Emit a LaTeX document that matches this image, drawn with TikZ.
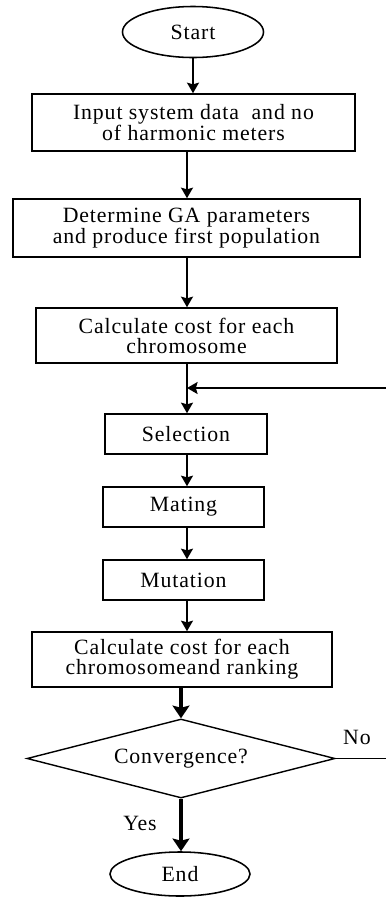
\documentclass[tikz,border=0pt]{standalone}
\usepackage{fontspec}
\setmainfont{Liberation Serif}[LetterSpace=4]
\usetikzlibrary{%
  arrows.meta,%
  shapes,%
  positioning%
}

\begin{document}
\begin{tikzpicture}
  [
  x=0.025cm, y=-0.025cm,
  line width=1.4pt,
  draw=black, >={Stealth[length=7.5pt,width=8.5pt,inset=1.2pt]},
  font=\fontsize{15.5}{14.2}\selectfont,
  stepbox/.style={rectangle, inner sep = 0pt, align=center, line width=1.1pt, draw=black},
  termnode/.style={ellipse, inner sep = 0pt, line width=1.1pt, draw=black},
  testnode/.style={diamond, aspect=3.9, inner sep = 0pt, line width=1pt, draw=black},
  bigarrow/.style={line width=2.8pt, -{Stealth[length=9pt,width=12pt,inset=1.5pt]}},
  ]
  \clip (0,0) rectangle (386,897);

  \node[termnode, minimum width=3.525cm, minimum height=1.275cm] (start) at (193,32) {Start};
  \node[stepbox, minimum width=8.075cm, minimum height=1.425cm] (input) at (193.5,122.5)
    {Input system data \ and no\\of harmonic meters};
  \node[stepbox, minimum width=8.675cm, minimum height=1.45cm] (param) at (186.5,228)
    {Determine GA parameters\\and produce first population};
  \node[stepbox, minimum width=7.525cm, minimum height=1.375cm] (cost) at (186.5,335.5)
    {Calculate cost for each\\chromosome};
  \node[stepbox, minimum width=4.05cm, minimum height=1cm] (sel) at (186,434) {Selection};
  \node[stepbox, minimum width=4.025cm, minimum height=1cm] (mate) at (183.5,507) {Mating};
  \node[stepbox, minimum width=4.025cm, minimum height=1cm] (mut) at (183.5,580) {Mutation};
  \node[stepbox, minimum width=7.5cm, minimum height=1.375cm] (rank) at (182,659.5)
    {Calculate cost for each\\chromosomeand ranking};
  \node[testnode, minimum width=7.7cm, minimum height=1.975cm] (conv) at (181,758.5) {Convergence?};
  \node[termnode, minimum width=3.5cm, minimum height=1.1cm] (end) at (180,874) {End};

  \node (no) at (357,737) {No};
  \node (yes) at (140,823) {Yes};

  \coordinate (spine) at (187,0);
  \coordinate (loopin) at (187,388);
  \coordinate (rimA) at (388,758.5);
  \coordinate (rimB) at (388,388);

  \draw[->] (start.south) -- (start.south |- input.north);
  \draw[->] (spine |- input.south) -- (spine |- param.north);
  \draw[->] (spine |- param.south) -- (spine |- cost.north);
  \draw[->] (spine |- cost.south) -- (spine |- sel.north);
  \draw[->] (spine |- sel.south) -- (spine |- mate.north);
  \draw[->] (spine |- mate.south) -- (spine |- mut.north);
  \draw[->] (spine |- mut.south) -- (spine |- rank.north);
  \draw[bigarrow] (conv |- rank.south) -- (conv.north);
  \draw[bigarrow] (conv.south) -- (conv.south |- end.north);

  % loop back
  \draw[line width=0.8pt] (conv.east) -- (rimA) -- (rimB);
  \draw[->] (rimB) -- (loopin);
\end{tikzpicture}
\end{document}
